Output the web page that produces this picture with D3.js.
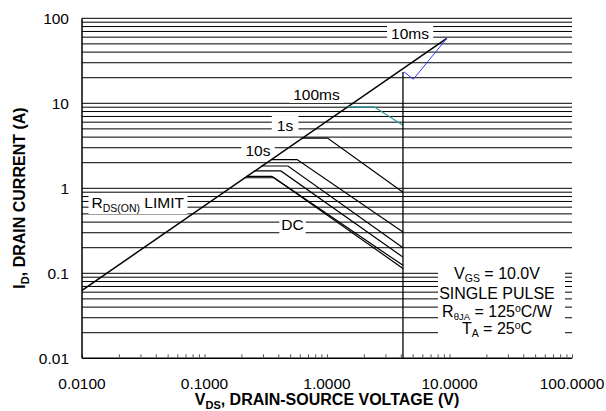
<!DOCTYPE html>
<html><head><meta charset="utf-8">
<script src="https://cdn.jsdelivr.net/npm/d3@7"></script>
<style>body{margin:0;background:#fff}svg{display:block;font-family:"Liberation Sans",Arial,sans-serif}</style>
</head><body><svg id="c" width="606" height="411"></svg>
<script>
// ---- data ----
const xTickValues = [0.01, 0.1, 1, 10, 100];
const xTickLabels = ["0.0100", "0.1000", "1.0000", "10.0000", "100.0000"];
const yTickValues = [0.01, 0.1, 1, 10, 100];
const yTickLabels = ["0.01", "0.1", "1", "10", "100"];
const limitV = [0.01, 9.5];
const limitI = [0.063, 58];
const v10ms = [9.5, 5.07, 4.25];
const i10ms = [58, 19.2, 23.4];
const v100ms = [1.48, 2.42, 4.17];
const i100ms = [9.1, 9.1, 5.5];
const v1s = [0.62, 1.01, 4.17];
const i1s = [3.9, 3.9, 0.90];
const v10s = [0.35, 0.57, 4.17];
const i10s = [2.18, 2.18, 0.306];
const v100s = [0.29, 0.48, 4.17];
const i100s = [1.83, 1.83, 0.20];
const v1000s = [0.254, 0.42, 4.17];
const i1000s = [1.60, 1.60, 0.155];
const vLong = [0.219, 0.355, 4.17];
const iLong = [1.38, 1.38, 0.124];
const vDC = [0.211, 0.37, 4.17];
const iDC = [1.33, 1.33, 0.114];
const vEdge = [4.17, 4.17];
const iEdge = [23.4, 0.01];

const svg = d3.select("#c");
const x = d3.scaleLog().domain([0.01, 100]).range([82, 572]);
const y = d3.scaleLog().domain([0.01, 100]).range([358.3, 18.3]);

// grid lines at every minor value
const gridVals = [];
for (let e = -2; e <= 1; e++) for (let m = 1; m <= 9; m++) gridVals.push(m * Math.pow(10, e));
gridVals.push(100);
svg.append("g").selectAll("line").data(gridVals.filter(v => v > 0.0100001)).join("line")
  .attr("x1", x(0.01)).attr("x2", x(100))
  .attr("y1", d => y(d)).attr("y2", d => y(d))
  .attr("stroke", "#000").attr("stroke-width", 1);

// x axis with inner ticks
const xMinor = [];
for (let e = -2; e <= 1; e++) for (let m = 1; m <= 9; m++) xMinor.push(m * Math.pow(10, e));
xMinor.push(100);
const xAxis = d3.axisBottom(x).tickValues(xMinor).tickSize(-4).tickFormat("");
const gx = svg.append("g").attr("transform", `translate(0,${y(0.01)})`).call(xAxis);
gx.select(".domain").attr("stroke-width", 1.5).attr("d", `M${x(0.01)},0H${x(100)}`);
gx.selectAll(".tick line").attr("stroke", "#555");
svg.append("g").selectAll("text").data(xTickValues).join("text")
  .attr("x", d => x(d)).attr("y", 389).attr("text-anchor", "middle")
  .attr("font-size", 15.5).text((d, i) => xTickLabels[i]);

// y axis
svg.append("line").attr("x1", x(0.01)).attr("x2", x(0.01)).attr("y1", y(100)).attr("y2", y(0.01))
  .attr("stroke", "#000").attr("stroke-width", 1.5);
svg.append("g").selectAll("text").data(yTickValues).join("text")
  .attr("x", 69).attr("y", d => y(d)).attr("dy", "0.36em").attr("text-anchor", "end")
  .attr("font-size", 15.5).text((d, i) => yTickLabels[i]);

// label helper with white background
function label(parts, cx, by, anchor, padX, padY) {
  const g = svg.append("g");
  const r = g.append("rect").attr("fill", "#fff");
  const t = g.append("text").attr("x", cx).attr("y", by).attr("text-anchor", anchor).attr("font-size", 15.5);
  parts.forEach(p => {
    const ts = t.append("tspan").text(p.t);
    if (p.sub) ts.attr("font-size", 10.5).attr("dy", 4);
    if (p.back) ts.attr("dy", p.back);
  });
  const b = t.node().getBBox();
  r.attr("x", b.x - padX).attr("y", b.y - padY).attr("width", b.width + 2 * padX).attr("height", b.height + 2 * padY);
  return g;
}

label([{t: "10ms"}], 410, 39, "middle", 4, 1);
label([{t: "100ms"}], 316.5, 100, "middle", 4, 0);
label([{t: "1s"}], 285, 131, "middle", 5, 1);
label([{t: "10s"}], 258, 156, "middle", 4, 1);
label([{t: "DC"}], 292.5, 230, "middle", 2, 1);
label([{t: "R"}, {t: "DS(ON)", sub: true}, {t: " LIMIT", back: -4}], 91.5, 208, "start", 3, 0);

// annotation box
const ann = svg.append("g");
ann.append("rect").attr("x", 438).attr("y", 264).attr("width", 127).attr("height", 76).attr("fill", "#fff");
function annLine(parts, by) {
  const t = ann.append("text").attr("x", 497).attr("y", by).attr("text-anchor", "middle").attr("font-size", 16);
  parts.forEach(p => {
    const ts = t.append("tspan").text(p.t);
    if (p.fs) ts.attr("font-size", p.fs);
    if (p.dy !== undefined) ts.attr("dy", p.dy);
  });
}
annLine([{t: "V"}, {t: "GS", fs: 10.5, dy: 3}, {t: " = 10.0V", dy: -3}], 278.5);
annLine([{t: "SINGLE PULSE"}], 298.5);
annLine([{t: "R"}, {t: "θJA", fs: 9.5, dy: 3}, {t: " = 125", dy: -3}, {t: "o", fs: 10.5, dy: -5}, {t: "C/W", dy: 5}], 317);
annLine([{t: "T"}, {t: "A", fs: 10.5, dy: 3}, {t: " = 25", dy: -3}, {t: "o", fs: 10.5, dy: -5}, {t: "C", dy: 5}], 334);

// curves
const line = d3.line().x(d => x(d[0])).y(d => y(d[1]));
const zip = (a, b) => a.map((v, i) => [v, b[i]]);
function curve(vs, is, color, w) {
  svg.append("path").attr("d", line(zip(vs, is))).attr("fill", "none")
    .attr("stroke", color).attr("stroke-width", w);
}
curve(limitV, limitI, "#000", 1.5);
curve(v10ms, i10ms, "#3b3bff", 1);
curve(v100ms, i100ms, "#2f9a9a", 1.2);
curve(v1s, i1s, "#000", 1.2);
curve(v10s, i10s, "#000", 1.2);
curve(v100s, i100s, "#000", 1.2);
curve(v1000s, i1000s, "#000", 1.2);
curve(vLong, iLong, "#000", 1.2);
curve(vDC, iDC, "#000", 1.2);
curve(vEdge, iEdge, "#000", 1.3);

// axis titles
svg.append("text").attr("x", 327).attr("y", 405).attr("text-anchor", "middle")
  .attr("font-size", 16).attr("font-weight", "bold")
  .call(t => { t.append("tspan").text("V"); t.append("tspan").text("DS").attr("font-size", 11).attr("dy", 4);
               t.append("tspan").text(", DRAIN-SOURCE VOLTAGE (V)").attr("dy", -4); });
svg.append("text").attr("transform", "translate(25,198) rotate(-90)").attr("text-anchor", "middle")
  .attr("font-size", 16).attr("font-weight", "bold")
  .call(t => { t.append("tspan").text("I"); t.append("tspan").text("D").attr("font-size", 11).attr("dy", 4);
               t.append("tspan").text(", DRAIN CURRENT (A)").attr("dy", -4); });
</script></body></html>
